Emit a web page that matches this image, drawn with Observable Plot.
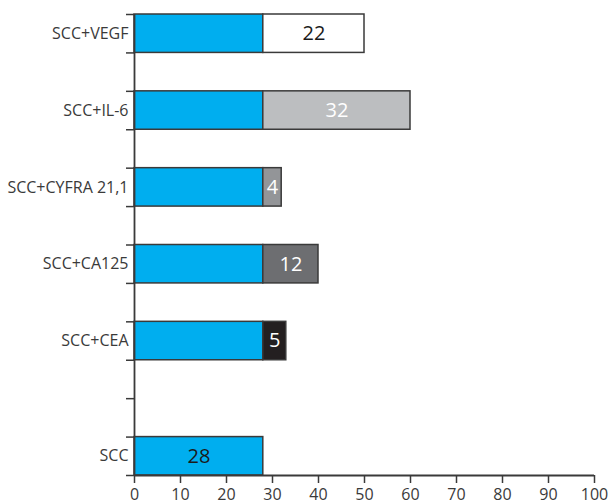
<!DOCTYPE html>
<html>
<head>
<meta charset="utf-8">
<script src="https://cdn.jsdelivr.net/npm/d3@7"></script>
<script src="https://cdn.jsdelivr.net/npm/@observablehq/plot@0.6"></script>
<style>
  html, body { margin: 0; padding: 0; background: #fff; }
  svg { display: block; }
</style>
</head>
<body>
<div id="chart"></div>
<script>
// ---- data ----
const categories = ["SCC+VEGF", "SCC+IL-6", "SCC+CYFRA 21,1", "SCC+CA125", "SCC+CEA", "SCC"];
const sccValues = [28, 28, 28, 28, 28, 28];
const addedValues = [22, 32, 4, 12, 5, null];
// category order on the axis, top to bottom, with empty slots
const slotOrder = ["SCC+VEGF", "", "SCC+IL-6", "", "SCC+CYFRA 21,1", "", "SCC+CA125", "", "SCC+CEA", "", "", "SCC"];
const xTicks = [0, 10, 20, 30, 40, 50, 60, 70, 80, 90, 100];

// ---- styles ----
const blue = "#00aeef";
const addedFills = ["#ffffff", "#bcbec0", "#939598", "#6d6e71", "#231f20", null];
const addedLabelColors = ["#1a1a1a", "#ffffff", "#ffffff", "#ffffff", "#ffffff", null];
const axisColor = "#3a3a3a";
const font = "'Open Sans', sans-serif";

// ---- tables ----
const rows = categories.map((c, i) => ({
  category: c,
  slot: slotOrder.indexOf(c),
  scc: sccValues[i],
  added: addedValues[i],
  fill: addedFills[i],
  labelColor: addedLabelColors[i]
}));
const addedRows = rows.filter(d => d.added != null);
const sccOnly = rows.filter(d => d.added == null);
const slotCenters = slotOrder.map((s, i) => i + 0.5).filter((v, i) => slotOrder[i] !== "");
const boundaries = d3.range(slotOrder.length + 1);

const chart = Plot.plot({
  width: 614,
  height: 504,
  marginLeft: 134,
  marginRight: 20,
  marginTop: 14,
  marginBottom: 29,
  style: { fontFamily: font, background: "#fff" },
  x: { domain: [0, 100], label: null },
  y: { domain: [0, slotOrder.length], reverse: true, label: null },
  marks: [
    Plot.rect(rows, {
      x1: 0, x2: "scc", y1: "slot", y2: d => d.slot + 1,
      fill: blue, stroke: axisColor, strokeWidth: 1.5
    }),
    Plot.rect(addedRows, {
      x1: "scc", x2: d => d.scc + d.added, y1: "slot", y2: d => d.slot + 1,
      fill: "fill", stroke: axisColor, strokeWidth: 1.5
    }),
    Plot.text(addedRows, {
      x: d => d.scc + d.added / 2, y: d => d.slot + 0.5,
      text: d => String(d.added), fill: "labelColor",
      fontSize: 20, fontFamily: font
    }),
    Plot.text(sccOnly, {
      x: d => d.scc / 2, y: d => d.slot + 0.5,
      text: d => String(d.scc), fill: "#1a1a1a",
      fontSize: 20, fontFamily: font
    }),
    Plot.ruleX([0], { y1: 0, y2: slotOrder.length, stroke: axisColor, strokeWidth: 1.8 }),
    Plot.ruleY([slotOrder.length], { x1: 0, x2: 100, stroke: axisColor, strokeWidth: 1.8 }),
    Plot.axisY({
      ticks: boundaries, tickSize: 8, tickFormat: () => "",
      stroke: axisColor, strokeWidth: 1.5
    }),
    Plot.axisY({
      ticks: slotCenters, tickSize: 0, tickPadding: 6,
      tickFormat: v => slotOrder[Math.floor(v)],
      fontSize: 16, fill: "#3a3a3a", fontFamily: font
    }),
    Plot.axisX({
      ticks: xTicks, tickSize: 8, tickPadding: 5,
      stroke: axisColor, strokeWidth: 1.5,
      fontSize: 16, fill: "#3a3a3a", fontFamily: font
    })
  ]
});
document.getElementById("chart").appendChild(chart);
</script>
</body>
</html>
